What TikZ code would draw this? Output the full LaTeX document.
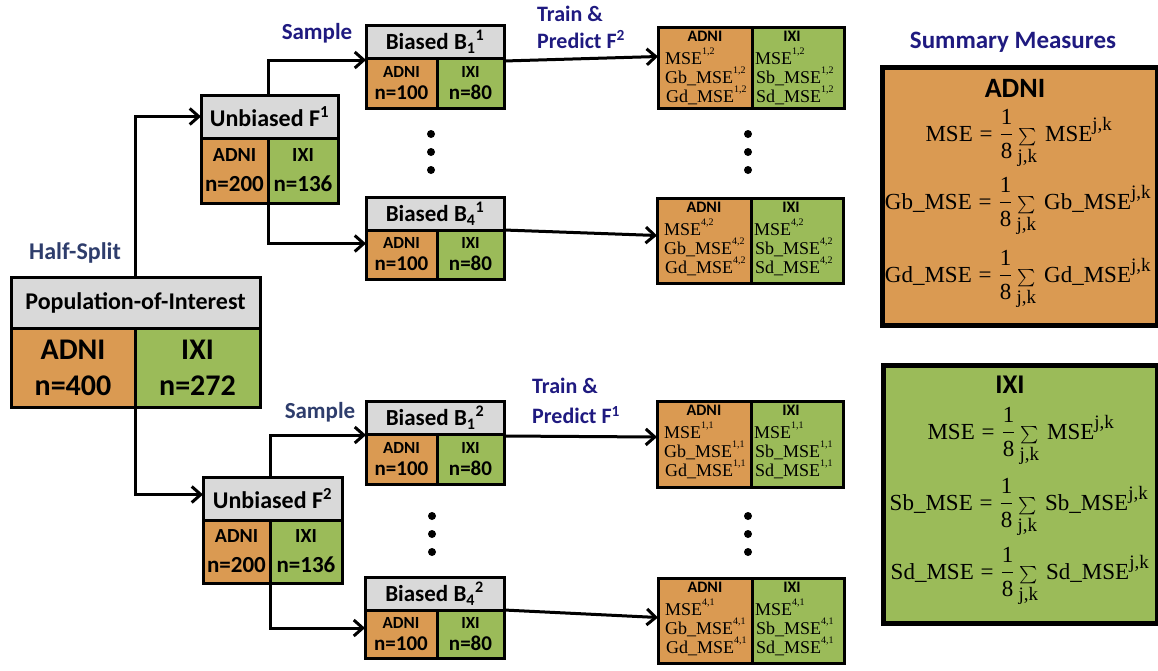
\documentclass[tikz,border=0pt]{standalone}
\usepackage{amsmath}
\usepackage{exscale}
\usepackage{fontspec}
\setmainfont{Liberation Serif}
\newfontfamily\calfont{Carlito}
\usetikzlibrary{arrows.meta}
\definecolor{orng}{HTML}{DA9A52}
\definecolor{grn}{HTML}{9BBB59}
\definecolor{hgray}{HTML}{D9D9D9}
\definecolor{navy}{HTML}{1F1A80}
\definecolor{slate}{HTML}{2E3D6C}
\newcommand\fs[2]{\fontsize{#1}{#2}\selectfont}
\newcommand\cbf{\calfont\bfseries}
\newcommand\sps[1]{\raisebox{0.55em}{\fs{10}{10}#1}}
\newcommand\frmla[1]{$\displaystyle\text{#1}\mathrel{\text{=}}\frac{\text{1}}{\text{8}}\mathop{\mbox{\fs{19}{19}$\sum$}}\limits_{\mbox{\fs{19}{19}j,k}}\text{\,#1}^{\mbox{\fs{19}{19}j,k}}$}
\tikzset{
 box/.style={draw, line width=3pt, anchor=north west, inner sep=0pt, outer sep=0pt, align=center},
 hdr/.style={box, fill=hgray},
 co/.style={box, fill=orng},
 cg/.style={box, fill=grn},
 arr/.style={line width=3pt, -{Straight Barb[length=9pt,width=16pt]}},
 lbl/.style={font=\cbf\fs{23}{28}, inner sep=0pt},
 rtxt/.style={anchor=base west, inner sep=0pt, font=\fs{18}{20}},
 rhd/.style={anchor=base, inner sep=0pt, font=\cbf\fs{16}{16}},
 sumbox/.style={draw, line width=5pt, anchor=north west, inner sep=0pt},
 frm/.style={anchor=base, inner sep=0pt, font=\fs{23}{26}},
 dot/.style={circle, fill=black, inner sep=0pt, minimum size=8pt},
}
\newcommand\resbox[5]{%
 \node[co, minimum width=94pt, minimum height=#4pt] (#1L) at (#2,#3) {};
 \node[cg, minimum width=92pt, minimum height=#4pt] (#1R) at (#1L.north east) {};
 \node[rhd] (#1La) at ([yshift=-14pt]#1L.north) {ADNI};
 \node[rhd] (#1Ra) at ([yshift=-14pt,xshift=-6pt]#1R.north) {IXI};
 \node[rtxt] (#1L1) at ([xshift=7pt,yshift=-37pt]#1L.north west) {MSE\sps{#5}};
 \node[rtxt] (#1L2) at ([xshift=7pt,yshift=-56pt]#1L.north west) {Gb\_MSE\sps{#5}};
 \node[rtxt] (#1L3) at ([xshift=8pt,yshift=-75pt]#1L.north west) {Gd\_MSE\sps{#5}};
 \node[rtxt] (#1R1) at ([xshift=3pt,yshift=-37pt]#1R.north west) {MSE\sps{#5}};
 \node[rtxt] (#1R2) at ([xshift=4pt,yshift=-56pt]#1R.north west) {Sb\_MSE\sps{#5}};
 \node[rtxt] (#1R3) at ([xshift=4pt,yshift=-75pt]#1R.north west) {Sd\_MSE\sps{#5}};
}
\begin{document}
\begin{tikzpicture}[x=1pt,y=-1pt]
\useasboundingbox (0,0) rectangle (1158,670);

% Population
\node[hdr, minimum width=249pt, minimum height=51pt, font=\cbf\fs{24}{28}] (popH) at (11,277) {Population-of-Interest};
\node[co, minimum width=124pt, minimum height=79pt, font=\cbf\fs{30}{36}] (popL) at (popH.south west) {ADNI\\n=400};
\node[cg, minimum width=125pt, minimum height=79pt, font=\cbf\fs{30}{36}] (popR) at (popL.north east) {IXI\\n=272};

% Unbiased F1
\node[hdr, minimum width=137pt, minimum height=43pt, font=\cbf\fs{24}{28}] (f1H) at (201,95) {Unbiased F\textsuperscript{1}};
\node[co, minimum width=67pt, minimum height=65pt, font=\cbf\fs{23}{30}] (f1L) at (f1H.south west) {{\fs{20}{30}ADNI}\\n=200};
\node[cg, minimum width=70pt, minimum height=65pt, font=\cbf\fs{23}{30}] (f1R) at (f1L.north east) {{\fs{20}{30}IXI}\\n=136};

% Unbiased F2
\node[hdr, minimum width=139pt, minimum height=43pt, font=\cbf\fs{24}{28}] (f2H) at (203,477) {Unbiased F\textsuperscript{2}};
\node[co, minimum width=67pt, minimum height=63pt, font=\cbf\fs{23}{30}] (f2L) at (f2H.south west) {{\fs{20}{30}ADNI}\\n=200};
\node[cg, minimum width=72pt, minimum height=63pt, font=\cbf\fs{23}{30}] (f2R) at (f2L.north east) {{\fs{20}{30}IXI}\\n=136};

% Biased boxes
\node[hdr, minimum width=138pt, minimum height=33pt, font=\cbf\fs{23}{26}] (b11H) at (366,25) {Biased B\textsubscript{1}\textsuperscript{1}};
\node[co, minimum width=71pt, minimum height=50pt, font=\cbf\fs{21}{22}] (b11L) at (b11H.south west) {{\fs{17}{22}ADNI}\\n=100};
\node[cg, minimum width=67pt, minimum height=50pt, font=\cbf\fs{21}{22}] (b11R) at (b11L.north east) {{\fs{17}{22}IXI}\\n=80};

\node[hdr, minimum width=138pt, minimum height=33pt, font=\cbf\fs{23}{26}] (b41H) at (366,197) {Biased B\textsubscript{4}\textsuperscript{1}};
\node[co, minimum width=71pt, minimum height=49pt, font=\cbf\fs{21}{22}] (b41L) at (b41H.south west) {{\fs{17}{22}ADNI}\\n=100};
\node[cg, minimum width=67pt, minimum height=49pt, font=\cbf\fs{21}{22}] (b41R) at (b41L.north east) {{\fs{17}{22}IXI}\\n=80};

\node[hdr, minimum width=138pt, minimum height=33pt, font=\cbf\fs{23}{26}] (b12H) at (366,401) {Biased B\textsubscript{1}\textsuperscript{2}};
\node[co, minimum width=71pt, minimum height=50pt, font=\cbf\fs{21}{22}] (b12L) at (b12H.south west) {{\fs{17}{22}ADNI}\\n=100};
\node[cg, minimum width=67pt, minimum height=50pt, font=\cbf\fs{21}{22}] (b12R) at (b12L.north east) {{\fs{17}{22}IXI}\\n=80};

\node[hdr, minimum width=139pt, minimum height=33pt, font=\cbf\fs{23}{26}] (b42H) at (365,577) {Biased B\textsubscript{4}\textsuperscript{2}};
\node[co, minimum width=72pt, minimum height=48pt, font=\cbf\fs{21}{22}] (b42L) at (b42H.south west) {{\fs{17}{22}ADNI}\\n=100};
\node[cg, minimum width=67pt, minimum height=48pt, font=\cbf\fs{21}{22}] (b42R) at (b42L.north east) {{\fs{17}{22}IXI}\\n=80};

% Result boxes
\resbox{r12}{658}{27}{81}{1,2}
\resbox{r42}{657}{198}{85}{4,2}
\resbox{r11}{657}{401}{86}{1,1}
\resbox{r41}{658}{578}{85}{4,1}

% Dots
\node[dot] (d1) at (431,134) {};
\node[dot] (d2) at (431,152) {};
\node[dot] (d3) at (431,170) {};
\node[dot] (d4) at (748,134) {};
\node[dot] (d5) at (748,152) {};
\node[dot] (d6) at (748,170) {};
\node[dot] (d7) at (432,516) {};
\node[dot] (d8) at (432,534) {};
\node[dot] (d9) at (432,552) {};
\node[dot] (d10) at (748,516) {};
\node[dot] (d11) at (748,534) {};
\node[dot] (d12) at (748,552) {};

% Arrows
\draw[arr] (popH.north) |- (f1H.west);
\draw[arr] (popL.south east) |- ([yshift=4pt]f2H.west);
\draw[arr] (f1H.north -| f1L.south east) |- ([yshift=-2pt]b11L.north west);
\draw[arr] (f1L.south east) |- ([yshift=11pt]b41L.west);
\draw[arr] (f2H.north -| f2L.south east) |- ([yshift=-1pt]b12L.north west);
\draw[arr] (f2L.south east) |- ([yshift=6pt]b42L.west);
\draw[arr] ([yshift=-3pt]b11R.north east) -- ([yshift=11pt]r12L.west);
\draw[arr] (b41R.north east) -- ([yshift=5pt]r42L.west);
\draw[arr] ([yshift=-2pt]b12R.north east) -- ([yshift=7pt]r11L.west);
\draw[arr] (b42R.north east) -- ([yshift=3pt]r41L.west);

% Labels
\node[lbl, text=slate, font=\cbf\fs{24}{28}] (hs) at (75,253) {Half-Split};
\node[lbl, text=navy] (s1) at (317,33) {Sample};
\node[lbl, text=slate] (s2) at (320,412) {Sample};
\node[lbl, text=navy, anchor=west, align=left, font=\cbf\fs{22}{27}] (tp1) at (537,27) {Train \&\\Predict F\textsuperscript{2}};
\node[lbl, text=navy, anchor=west, align=left, font=\cbf\fs{22}{30}] (tp2) at (532,401) {Train \&\\Predict F\textsuperscript{1}};
\node[lbl, text=navy, font=\cbf\fs{25}{28}] (sm) at (1013,42) {Summary Measures};

% Summary boxes
\node[sumbox, fill=orng, minimum width=275pt, minimum height=258pt] (sA) at (880,65) {};
\node[sumbox, fill=grn, minimum width=274pt, minimum height=258pt] (sI) at (881,363) {};
\node[lbl, font=\cbf\fs{28}{30}] (sAt) at (1015,88) {ADNI};
\node[lbl, font=\cbf\fs{27}{30}] (sIt) at (1010,385) {IXI};
\node[frm] (fa1) at (1019,141) {\frmla{MSE}};
\node[frm] (fa2) at (1018,209) {\frmla{Gb\_MSE}};
\node[frm] (fa3) at (1018,282) {\frmla{Gd\_MSE}};
\node[frm] (fi1) at (1021,439) {\frmla{MSE}};
\node[frm] (fi2) at (1019,510) {\frmla{Sb\_MSE}};
\node[frm] (fi3) at (1020,579) {\frmla{Sd\_MSE}};
\end{tikzpicture}
\end{document}
